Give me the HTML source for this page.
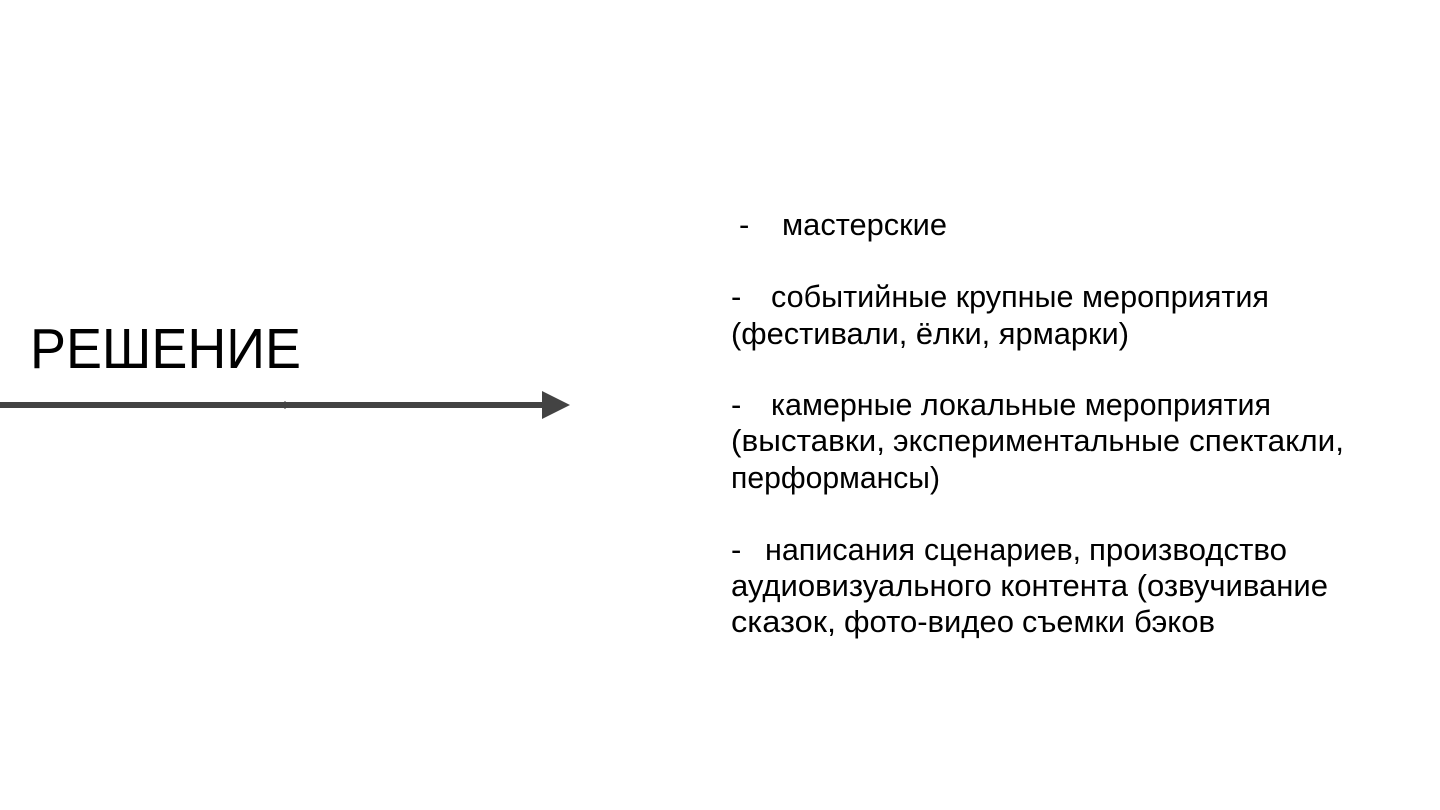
<!DOCTYPE html>
<html lang="ru">
<head>
<meta charset="utf-8">
<style>
html,body{margin:0;padding:0;background:#fff;width:1440px;height:810px;overflow:hidden}
svg{position:absolute;left:0;top:0}
text{font-family:"Liberation Sans",sans-serif;fill:#000;font-size:31px}
</style>
</head>
<body>
<svg width="1440" height="810" viewBox="0 0 1440 810">
<rect x="0" y="402" width="544" height="6" fill="#434343"/>
<polygon points="542,391 570,405 542,419" fill="#434343"/>
<polygon points="281,405 285,401 289,405 285,409" fill="#434343"/>
<text x="30" y="368" style="font-size:57px" textLength="271" lengthAdjust="spacingAndGlyphs">РЕШЕНИЕ</text>
<text x="739" y="235">-</text>
<text x="782" y="235" textLength="165" lengthAdjust="spacingAndGlyphs">мастерские</text>
<text x="731" y="307">-</text>
<text x="771" y="307" textLength="498" lengthAdjust="spacingAndGlyphs">событийные крупные мероприятия</text>
<text x="731" y="344" textLength="398" lengthAdjust="spacingAndGlyphs">(фестивали, ёлки, ярмарки)</text>
<text x="731" y="415">-</text>
<text x="771" y="415" textLength="500" lengthAdjust="spacingAndGlyphs">камерные локальные мероприятия</text>
<text x="731" y="451" textLength="154" lengthAdjust="spacingAndGlyphs">(выставки,</text>
<text x="893" y="451" textLength="287" lengthAdjust="spacingAndGlyphs">экспериментальные</text>
<text x="1189" y="451" textLength="155" lengthAdjust="spacingAndGlyphs">спектакли,</text>
<text x="731" y="488" textLength="209" lengthAdjust="spacingAndGlyphs">перформансы)</text>
<text x="731" y="560">-</text>
<text x="765" y="560" textLength="150" lengthAdjust="spacingAndGlyphs">написания</text>
<text x="924" y="560" textLength="157" lengthAdjust="spacingAndGlyphs">сценариев,</text>
<text x="1089" y="560" textLength="198" lengthAdjust="spacingAndGlyphs">производство</text>
<text x="731" y="596" textLength="597" lengthAdjust="spacingAndGlyphs">аудиовизуального контента (озвучивание</text>
<text x="731" y="632" textLength="105" lengthAdjust="spacingAndGlyphs">сказок,</text>
<text x="844" y="632" textLength="170" lengthAdjust="spacingAndGlyphs">фото-видео</text>
<text x="1022" y="632" textLength="103" lengthAdjust="spacingAndGlyphs">съемки</text>
<text x="1134" y="632" textLength="81" lengthAdjust="spacingAndGlyphs">бэков</text>
</svg>
</body>
</html>
